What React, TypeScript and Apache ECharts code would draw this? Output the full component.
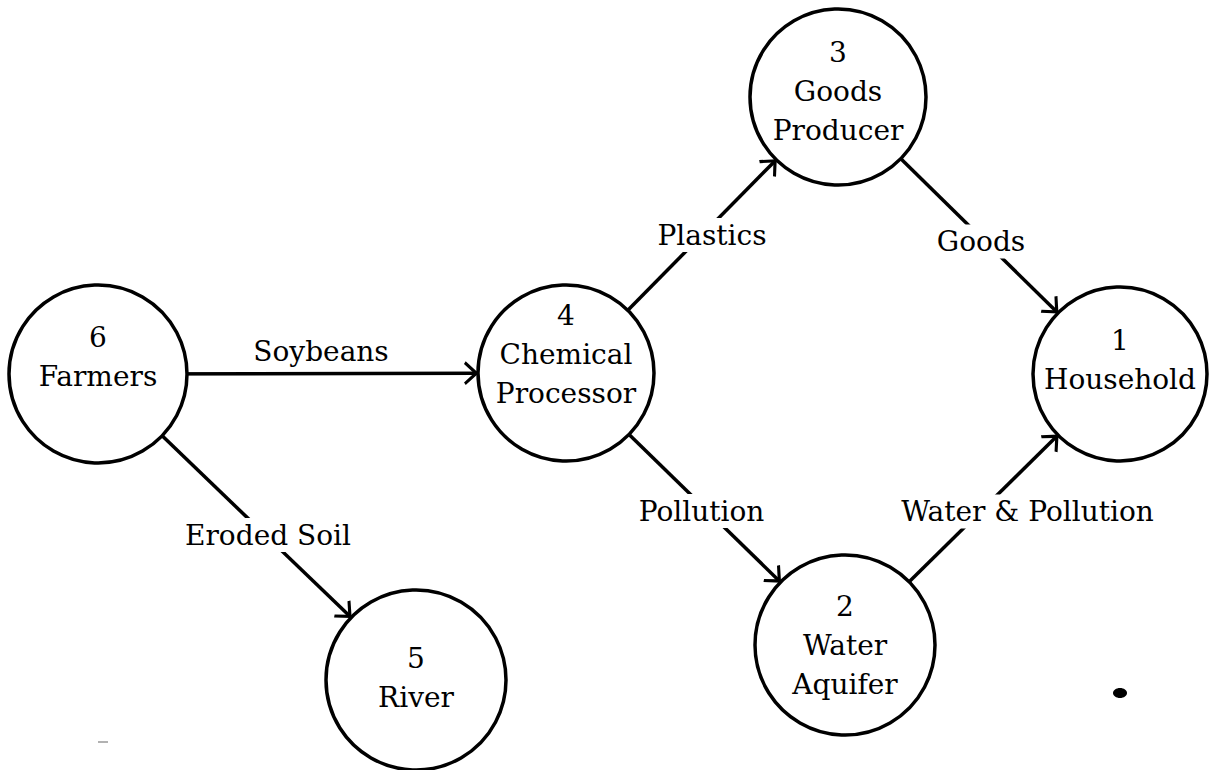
import React, { useEffect, useRef } from 'react';
import * as echarts from 'echarts';

// ---- data ----
const nodeNumbers = [1, 2, 3, 4, 5, 6];
const nodeTitles = ['Household', 'Water\nAquifer', 'Goods\nProducer', 'Chemical\nProcessor', 'River', 'Farmers'];
const flowFrom = [6, 4, 3, 4, 2, 6];
const flowTo = [4, 3, 1, 2, 1, 5];
const flowLabels = ['Soybeans', 'Plastics', 'Goods', 'Pollution', 'Water & Pollution', 'Eroded Soil'];

// ---- layout (pixel positions of the diagram) ----
const nodePos: Record<number, [number, number]> = {
  1: [1120, 374],
  2: [845, 645],
  3: [838, 97],
  4: [566, 373],
  5: [416, 680],
  6: [98, 374],
};
const nodeSize: Record<number, number> = { 1: 174, 2: 180, 3: 176, 4: 176, 5: 180, 6: 178 };
const nodeLabelDy: Record<number, number> = { 1: -14, 2: 0, 3: -6, 4: -19, 5: -2, 6: -17 };
const flowLabelOffset: [number, number][] = [[-11, -22], [10, 0], [2, 6], [-4, 2], [45, 2], [11, 8]];
const flowLabelBg = [false, true, true, true, true, true];

const FONT = '"DejaVu Serif", serif';
const ARROW =
  'path://M0,0 L0.1,0 L0,0.1 Z M26,0 L25.9,0 L26,0.1 Z M13,12.5 L24,24.8 L21.6,26.4 L13,17 L4.4,26.4 L2,24.8 Z';

export default function App() {
  const ref = useRef<HTMLDivElement>(null);
  useEffect(() => {
    document.body.style.margin = '0';
    const chart = echarts.init(ref.current!, null, { renderer: 'svg' });
    const nodes = nodeNumbers.map((n, i) => ({
      name: 'n' + n,
      value: nodePos[n],
      symbolSize: nodeSize[n],
      label: { offset: [0, nodeLabelDy[n]] },
      title: n + '\n' + nodeTitles[i],
    }));
    const edges = flowFrom.map((f, i) => ({ source: 'n' + f, target: 'n' + flowTo[i] }));
    const labelData = flowLabels.map((t, i) => {
      const a = nodePos[flowFrom[i]];
      const b = nodePos[flowTo[i]];
      return {
        name: t,
        value: [(a[0] + b[0]) / 2 + flowLabelOffset[i][0], (a[1] + b[1]) / 2 + flowLabelOffset[i][1]],
        label: flowLabelBg[i]
          ? { backgroundColor: '#fff', padding: [3, 5] }
          : { backgroundColor: 'transparent', padding: 0 },
      };
    });
    chart.setOption({
      animation: false,
      backgroundColor: '#fff',
      grid: { left: 0, right: 0, top: 0, bottom: 0 },
      xAxis: { type: 'value', min: 0, max: 1213, show: false },
      yAxis: { type: 'value', min: 0, max: 770, inverse: true, show: false },
      series: [
        {
          type: 'graph',
          coordinateSystem: 'cartesian2d',
          layout: 'none',
          silent: true,
          z: 2,
          data: nodes,
          edges,
          symbol: 'circle',
          itemStyle: { color: '#fff', borderColor: '#000', borderWidth: 3.5, opacity: 1 },
          label: {
            show: true,
            position: 'inside',
            formatter: (p: any) => p.data.title,
            fontFamily: FONT,
            fontSize: 28,
            lineHeight: 39,
            color: '#000',
          },
          edgeSymbol: ['none', ARROW],
          edgeSymbolSize: [1, 28],
          lineStyle: { color: '#000', width: 3.5, opacity: 1, curveness: 0 },
          emphasis: { disabled: true },
        },
        {
          type: 'scatter',
          silent: true,
          z: 3,
          symbolSize: 0,
          data: labelData,
          itemStyle: { opacity: 1 },
          label: {
            show: true,
            position: 'inside',
            formatter: '{b}',
            fontFamily: FONT,
            fontSize: 28,
            color: '#000',
            opacity: 1,
          },
          emphasis: { disabled: true },
        },
      ],
      graphic: [
        { type: 'ellipse', shape: { cx: 1120, cy: 693, rx: 7, ry: 5 }, style: { fill: '#000' }, z: 10 },
        { type: 'line', shape: { x1: 98, y1: 742, x2: 108, y2: 742 }, style: { stroke: '#999', lineWidth: 1.5 }, z: 10 },
      ],
    });
    return () => chart.dispose();
  }, []);
  return <div ref={ref} style={{ width: 1213, height: 770, position: 'absolute', left: 0, top: 0 }} />;
}
